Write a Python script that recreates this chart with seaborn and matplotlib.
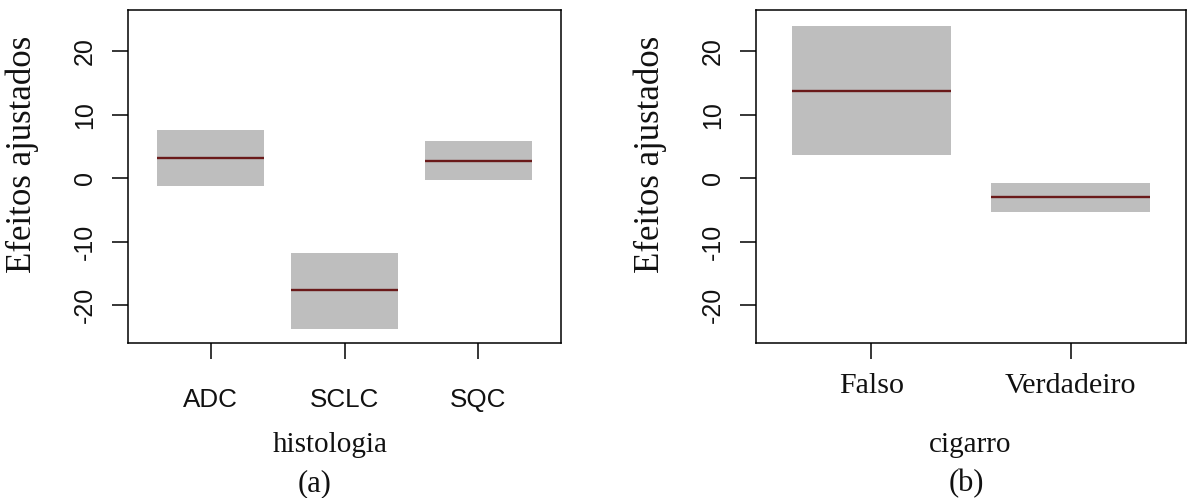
import numpy as np
import pandas as pd
import matplotlib
matplotlib.use("Agg")
import matplotlib.pyplot as plt
import seaborn as sns

# ---- data ----
hist_cats = ["ADC", "SCLC", "SQC"]
hist_fit = [3.2, -17.7, 2.7]
hist_low = [-1.3, -23.8, -0.3]
hist_high = [7.6, -11.8, 5.8]

cig_cats = ["Falso", "Verdadeiro"]
cig_fit = [13.8, -3.0]
cig_low = [3.6, -5.4]
cig_high = [24.0, -0.8]

y_ticks = [-20, -10, 0, 10, 20]
y_label = "Efeitos ajustados"
x_label_a = "histologia"
x_label_b = "cigarro"
tag_a = "(a)"
tag_b = "(b)"

# ---- style ----
sns.set_theme(style="white")
plt.rcParams["font.family"] = ["Liberation Serif", "DejaVu Serif"]
SANS = ["Liberation Sans", "DejaVu Sans"]
SERIF = ["Liberation Serif", "DejaVu Serif"]
BAND = "#bebebe"
LINE = "#6a1a1a"

W, H = 1187, 498
fig = plt.figure(figsize=(W / 100, H / 100), dpi=100)
fig.patch.set_facecolor("white")

ax1 = fig.add_axes([128 / W, 1 - 343 / H, 433 / W, 333 / H])
ax2 = fig.add_axes([756 / W, 1 - 343 / H, 430 / W, 333 / H])


def panel(ax, cats, fit, low, high, xlabel, tick_family, tick_size, tick_pad,
          xlim, xlabel_x):
    low = np.asarray(low, dtype=float)
    high = np.asarray(high, dtype=float)
    df = pd.DataFrame({"cat": cats, "height": high - low})
    sns.barplot(data=df, x="cat", y="height", bottom=low, color=BAND,
                saturation=1, width=0.8, linewidth=0, errorbar=None, ax=ax)
    pos = np.arange(len(cats))
    ax.hlines(fit, pos - 0.4, pos + 0.4, color=LINE, linewidth=1.7, zorder=3)

    ax.set_xlim(*xlim)
    ax.set_ylim(-26.0, 26.5)

    ax.set_yticks(y_ticks)
    ax.set_yticklabels([str(t) for t in y_ticks], rotation=90, va="center",
                       family=SANS, fontsize=18)
    ax.set_xticks(pos)
    ax.set_xticklabels(cats, family=tick_family, fontsize=tick_size)

    ax.tick_params(axis="both", direction="out", length=11.5, width=1.1,
                   color="black", labelcolor="#111111",
                   bottom=True, left=True, top=False, right=False)
    ax.tick_params(axis="y", pad=11)
    ax.tick_params(axis="x", pad=tick_pad)
    for s in ax.spines.values():
        s.set_visible(True)
        s.set_color("black")
        s.set_linewidth(1.1)

    ax.set_ylabel(y_label, family=SERIF, fontsize=25, color="#111111")
    ax.yaxis.label.set_va("center")
    ax.yaxis.set_label_coords(-105.5 / (ax.get_position().width * W), 0.5676)

    ax.set_xlabel(xlabel, family=SERIF, fontsize=21, color="#111111")
    ax.xaxis.label.set_va("baseline")
    ax.xaxis.set_label_coords(xlabel_x, (343 - 452) / 333)


panel(ax1, hist_cats, hist_fit, hist_low, hist_high, x_label_a, SANS, 18.7,
      21, (-0.62, 2.62), (330 - 128) / 433)
panel(ax2, cig_cats, cig_fit, cig_low, cig_high, x_label_b, SERIF, 21.6,
      10, (-0.58, 1.58), (970 - 756) / 430)

fig.text(315 / W, 1 - 491 / H, tag_a, ha="center", va="baseline",
         family=SERIF, fontsize=22, color="#111111")
fig.text(966 / W, 1 - 491 / H, tag_b, ha="center", va="baseline",
         family=SERIF, fontsize=22, color="#111111")

fig.savefig("out.png", dpi=100, facecolor="white")
